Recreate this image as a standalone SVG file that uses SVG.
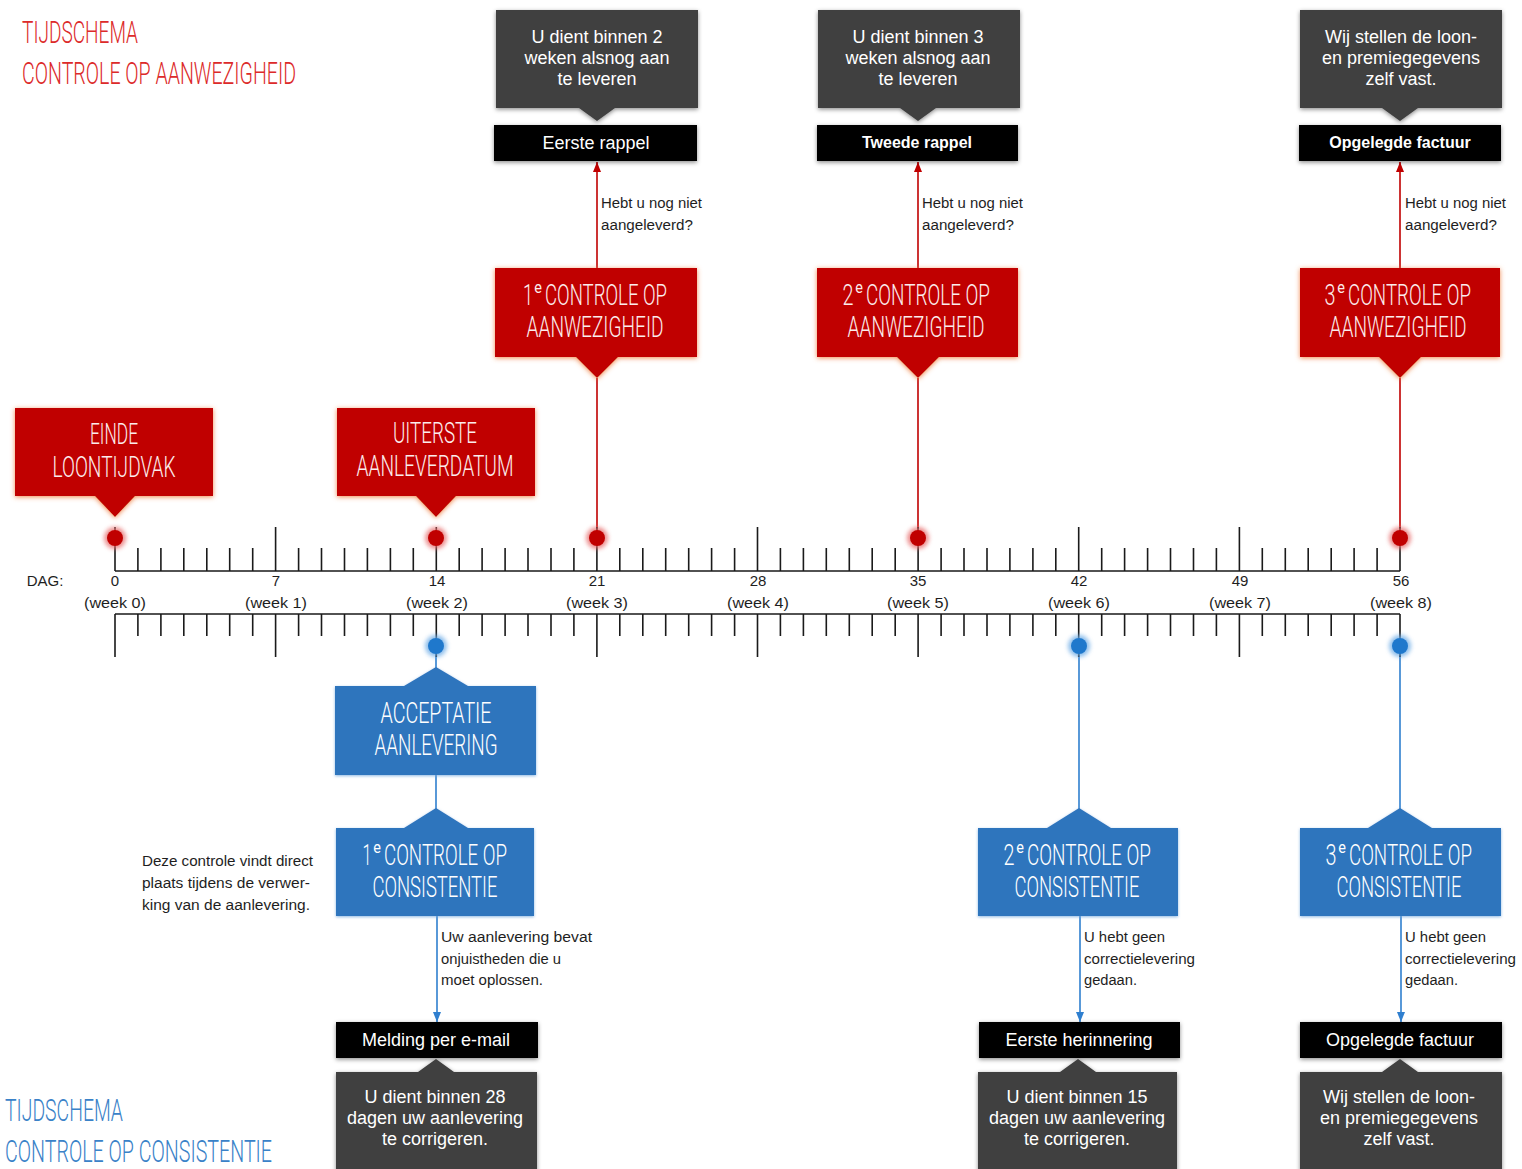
<svg xmlns="http://www.w3.org/2000/svg" width="1522" height="1169" viewBox="0 0 1522 1169">
<defs>
<style>
.ttl{font-family:Roboto,"Liberation Sans",sans-serif;font-weight:300;font-size:32px}
.bt{font-family:Roboto,"Liberation Sans",sans-serif;font-weight:300;font-size:30px;text-anchor:middle}
.bs{font-family:Roboto,"Liberation Sans",sans-serif;font-weight:300;font-size:30px;text-anchor:start}
.sup{font-family:Roboto,"Liberation Sans",sans-serif;font-weight:400;font-size:17px;text-anchor:middle}
.rt{fill:#fcecec}
.wt{fill:#ffffff}
.tx{font-family:"Liberation Sans",Arial,sans-serif}
.w18{font-size:18px;fill:#fff;text-anchor:middle}
.b16{font-size:16px;font-weight:bold;fill:#fff;text-anchor:middle}
.lbl{font-size:14px;fill:#1e1e1e}
.ax{font-size:15px;fill:#1e1e1e;text-anchor:middle}
.red{fill:#c00000}
.blue{fill:#2f74bd}
.dark{fill:#3f3f3f}
.blk{fill:#000}
.rl{stroke:#c00000;stroke-width:1.6;fill:none}
.bl{stroke:#2f7fcf;stroke-width:1.6;fill:none}
.tick{stroke:#1a1a1a;stroke-width:1.6;fill:none}
</style>
<filter id="shR" x="-15%" y="-15%" width="130%" height="135%"><feDropShadow dx="0" dy="1" stdDeviation="2.5" flood-color="#ee7a3a" flood-opacity="0.9"/></filter>
<filter id="shK" x="-15%" y="-15%" width="130%" height="135%"><feDropShadow dx="0" dy="1.5" stdDeviation="2" flood-color="#000" flood-opacity="0.45"/></filter>
<filter id="shB" x="-15%" y="-15%" width="130%" height="135%"><feDropShadow dx="0" dy="1" stdDeviation="1.6" flood-color="#6fa6dc" flood-opacity="0.8"/></filter>
<filter id="glow" x="-100%" y="-100%" width="300%" height="300%"><feGaussianBlur stdDeviation="2.2"/></filter>
<marker id="arrR" markerUnits="userSpaceOnUse" markerWidth="10" markerHeight="10" viewBox="0 0 10 10" refX="10" refY="5" orient="auto"><path d="M0,1 L10,5 L0,9 Z" fill="#c00000"/></marker>
<marker id="arrB" markerUnits="userSpaceOnUse" markerWidth="10" markerHeight="10" viewBox="0 0 10 10" refX="10" refY="5" orient="auto"><path d="M0,1 L10,5 L0,9 Z" fill="#2f7fcf"/></marker>
</defs>

<rect width="1522" height="1169" fill="#fff"/>

<g id="title-aanwezigheid" class="ttl" fill="#dc2a2a">
<text transform="translate(22,43) scale(0.65,1)" textLength="178.5" lengthAdjust="spacingAndGlyphs">TIJDSCHEMA</text>
<text transform="translate(22,84) scale(0.65,1)" textLength="421.5" lengthAdjust="spacingAndGlyphs">CONTROLE OP AANWEZIGHEID</text>
</g>
<g id="title-consistentie" class="ttl" fill="#3a82c8">
<text transform="translate(5,1121) scale(0.65,1)" textLength="181.5" lengthAdjust="spacingAndGlyphs">TIJDSCHEMA</text>
<text transform="translate(5,1162) scale(0.65,1)" textLength="410.8" lengthAdjust="spacingAndGlyphs">CONTROLE OP CONSISTENTIE</text>
</g>

<g id="connectors">
<line class="rl" x1="597" y1="268" x2="597" y2="162" marker-end="url(#arrR)"/>
<line class="rl" x1="918" y1="268" x2="918" y2="162" marker-end="url(#arrR)"/>
<line class="rl" x1="1400" y1="268" x2="1400" y2="162" marker-end="url(#arrR)"/>
<line class="rl" x1="597" y1="378" x2="597" y2="532"/>
<line class="rl" x1="918" y1="378" x2="918" y2="532"/>
<line class="rl" x1="1400" y1="378" x2="1400" y2="532"/>
<line class="bl" x1="436" y1="650" x2="436" y2="668"/>
<line class="bl" x1="436" y1="775" x2="436" y2="809"/>
<line class="bl" x1="1079" y1="650" x2="1079" y2="809"/>
<line class="bl" x1="1400" y1="650" x2="1400" y2="809"/>
<line class="bl" x1="437" y1="916" x2="437" y2="1022" marker-end="url(#arrB)"/>
<line class="bl" x1="1080" y1="916" x2="1080" y2="1022" marker-end="url(#arrB)"/>
<line class="bl" x1="1401" y1="916" x2="1401" y2="1022" marker-end="url(#arrB)"/>
</g>

<g id="connector-labels" class="tx lbl">
<text x="601" y="208" textLength="101" lengthAdjust="spacingAndGlyphs">Hebt u nog niet</text>
<text x="601" y="230" textLength="92" lengthAdjust="spacingAndGlyphs">aangeleverd?</text>
<text x="922" y="208" textLength="101" lengthAdjust="spacingAndGlyphs">Hebt u nog niet</text>
<text x="922" y="230" textLength="92" lengthAdjust="spacingAndGlyphs">aangeleverd?</text>
<text x="1405" y="208" textLength="101" lengthAdjust="spacingAndGlyphs">Hebt u nog niet</text>
<text x="1405" y="230" textLength="92" lengthAdjust="spacingAndGlyphs">aangeleverd?</text>
<text x="441" y="942" textLength="151" lengthAdjust="spacingAndGlyphs">Uw aanlevering bevat</text>
<text x="441" y="964" textLength="120" lengthAdjust="spacingAndGlyphs">onjuistheden die u</text>
<text x="441" y="985" textLength="102" lengthAdjust="spacingAndGlyphs">moet oplossen.</text>
<text x="1084" y="942" textLength="81" lengthAdjust="spacingAndGlyphs">U hebt geen</text>
<text x="1084" y="964" textLength="111" lengthAdjust="spacingAndGlyphs">correctielevering</text>
<text x="1084" y="985" textLength="53" lengthAdjust="spacingAndGlyphs">gedaan.</text>
<text x="1405" y="942" textLength="81" lengthAdjust="spacingAndGlyphs">U hebt geen</text>
<text x="1405" y="964" textLength="111" lengthAdjust="spacingAndGlyphs">correctielevering</text>
<text x="1405" y="985" textLength="53" lengthAdjust="spacingAndGlyphs">gedaan.</text>
<text x="142" y="866" textLength="171" lengthAdjust="spacingAndGlyphs">Deze controle vindt direct</text>
<text x="142" y="888" textLength="168" lengthAdjust="spacingAndGlyphs">plaats tijdens de verwer-</text>
<text x="142" y="910" textLength="168" lengthAdjust="spacingAndGlyphs">king van de aanlevering.</text>
</g>

<g id="timeline">
<path class="tick" d="M115,571H1400 M115,527V571 M275.6,527V571 M436.3,527V571 M596.9,527V571 M757.5,527V571 M918.1,527V571 M1078.7,527V571 M1239.4,527V571 M1400,527V571
M137.9,548v23 M160.9,548v23 M183.8,548v23 M206.8,548v23 M229.7,548v23 M252.7,548v23 M298.6,548v23 M321.5,548v23 M344.5,548v23 M367.4,548v23 M390.4,548v23 M413.3,548v23 M459.2,548v23 M482.1,548v23 M505.1,548v23 M528,548v23 M551,548v23 M573.9,548v23 M619.8,548v23 M642.8,548v23 M665.7,548v23 M688.7,548v23 M711.6,548v23 M734.6,548v23 M780.4,548v23 M803.4,548v23 M826.3,548v23 M849.3,548v23 M872.2,548v23 M895.2,548v23 M941.1,548v23 M964,548v23 M987,548v23 M1009.9,548v23 M1032.9,548v23 M1055.8,548v23 M1101.7,548v23 M1124.6,548v23 M1147.6,548v23 M1170.5,548v23 M1193.5,548v23 M1216.4,548v23 M1262.3,548v23 M1285.3,548v23 M1308.2,548v23 M1331.2,548v23 M1354.1,548v23 M1377.1,548v23"/>
<path class="tick" d="M115,614H1400 M115,614V657 M275.6,614V657 M436.3,614V657 M596.9,614V657 M757.5,614V657 M918.1,614V657 M1078.7,614V657 M1239.4,614V657 M1400,614V657
M137.9,614v22 M160.9,614v22 M183.8,614v22 M206.8,614v22 M229.7,614v22 M252.7,614v22 M298.6,614v22 M321.5,614v22 M344.5,614v22 M367.4,614v22 M390.4,614v22 M413.3,614v22 M459.2,614v22 M482.1,614v22 M505.1,614v22 M528,614v22 M551,614v22 M573.9,614v22 M619.8,614v22 M642.8,614v22 M665.7,614v22 M688.7,614v22 M711.6,614v22 M734.6,614v22 M780.4,614v22 M803.4,614v22 M826.3,614v22 M849.3,614v22 M872.2,614v22 M895.2,614v22 M941.1,614v22 M964,614v22 M987,614v22 M1009.9,614v22 M1032.9,614v22 M1055.8,614v22 M1101.7,614v22 M1124.6,614v22 M1147.6,614v22 M1170.5,614v22 M1193.5,614v22 M1216.4,614v22 M1262.3,614v22 M1285.3,614v22 M1308.2,614v22 M1331.2,614v22 M1354.1,614v22 M1377.1,614v22"/>
<g class="tx ax">
<text x="45" y="586">DAG:</text>
<text x="115" y="586">0</text><text x="115" y="608" textLength="62" lengthAdjust="spacingAndGlyphs">(week 0)</text>
<text x="276" y="586">7</text><text x="276" y="608" textLength="62" lengthAdjust="spacingAndGlyphs">(week 1)</text>
<text x="437" y="586">14</text><text x="437" y="608" textLength="62" lengthAdjust="spacingAndGlyphs">(week 2)</text>
<text x="597" y="586">21</text><text x="597" y="608" textLength="62" lengthAdjust="spacingAndGlyphs">(week 3)</text>
<text x="758" y="586">28</text><text x="758" y="608" textLength="62" lengthAdjust="spacingAndGlyphs">(week 4)</text>
<text x="918" y="586">35</text><text x="918" y="608" textLength="62" lengthAdjust="spacingAndGlyphs">(week 5)</text>
<text x="1079" y="586">42</text><text x="1079" y="608" textLength="62" lengthAdjust="spacingAndGlyphs">(week 6)</text>
<text x="1240" y="586">49</text><text x="1240" y="608" textLength="62" lengthAdjust="spacingAndGlyphs">(week 7)</text>
<text x="1401" y="586">56</text><text x="1401" y="608" textLength="62" lengthAdjust="spacingAndGlyphs">(week 8)</text>
</g>
<g id="dots-red">
<g fill="#e76b6b" opacity="0.75" filter="url(#glow)">
<circle cx="115" cy="538" r="11"/><circle cx="436" cy="538" r="11"/><circle cx="597" cy="538" r="11"/><circle cx="918" cy="538" r="11"/><circle cx="1400" cy="538" r="11"/>
</g>
<g fill="#c00000">
<circle cx="115" cy="538" r="8"/><circle cx="436" cy="538" r="8"/><circle cx="597" cy="538" r="8"/><circle cx="918" cy="538" r="8"/><circle cx="1400" cy="538" r="8"/>
</g>
</g>
<g id="dots-blue">
<g fill="#6aaae6" opacity="0.75" filter="url(#glow)">
<circle cx="436" cy="646" r="11"/><circle cx="1079" cy="646" r="11"/><circle cx="1400" cy="646" r="11"/>
</g>
<g fill="#1f78cc">
<circle cx="436" cy="646" r="8"/><circle cx="1079" cy="646" r="8"/><circle cx="1400" cy="646" r="8"/>
</g>
</g>
</g>

<!-- red nodes -->
<g id="n-einde">
<path class="red" filter="url(#shR)" d="M15,408H213V496H135L115,517L95,496H15Z"/>
<text class="bt rt" transform="translate(114,444) scale(0.7,1)" textLength="68.6" lengthAdjust="spacingAndGlyphs">EINDE</text>
<text class="bt rt" transform="translate(114,477) scale(0.7,1)" textLength="175.7" lengthAdjust="spacingAndGlyphs">LOONTIJDVAK</text>
</g>
<g id="n-uiterste">
<path class="red" filter="url(#shR)" d="M337,408H535V496H456L436,517L416,496H337Z"/>
<text class="bt rt" transform="translate(435,443) scale(0.7,1)" textLength="120" lengthAdjust="spacingAndGlyphs">UITERSTE</text>
<text class="bt rt" transform="translate(435,476) scale(0.7,1)" textLength="224.3" lengthAdjust="spacingAndGlyphs">AANLEVERDATUM</text>
</g>
<g id="n-ca1">
<path class="red" filter="url(#shR)" d="M495,268H697V357H618L597,378L576,357H495Z"/>
<text class="bt rt" transform="translate(528,305) scale(0.7,1)" textLength="14.3" lengthAdjust="spacingAndGlyphs">1</text>
<text class="sup rt" transform="translate(538,293) scale(0.85,1)">e</text>
<text class="bs rt" transform="translate(545,305) scale(0.7,1)" textLength="174.3" lengthAdjust="spacingAndGlyphs">CONTROLE OP</text>
<text class="bt rt" transform="translate(595,337) scale(0.7,1)" textLength="195.7" lengthAdjust="spacingAndGlyphs">AANWEZIGHEID</text>
</g>
<g id="n-ca2">
<path class="red" filter="url(#shR)" d="M817,268H1018V357H939L918,378L897,357H817Z"/>
<text class="bt rt" transform="translate(848,305) scale(0.7,1)" textLength="15.7" lengthAdjust="spacingAndGlyphs">2</text>
<text class="sup rt" transform="translate(859,293) scale(0.85,1)">e</text>
<text class="bs rt" transform="translate(866,305) scale(0.7,1)" textLength="177.1" lengthAdjust="spacingAndGlyphs">CONTROLE OP</text>
<text class="bt rt" transform="translate(916,337) scale(0.7,1)" textLength="195.7" lengthAdjust="spacingAndGlyphs">AANWEZIGHEID</text>
</g>
<g id="n-ca3">
<path class="red" filter="url(#shR)" d="M1300,268H1500V357H1421L1400,378L1379,357H1300Z"/>
<text class="bt rt" transform="translate(1330,305) scale(0.7,1)" textLength="15.7" lengthAdjust="spacingAndGlyphs">3</text>
<text class="sup rt" transform="translate(1341,293) scale(0.85,1)">e</text>
<text class="bs rt" transform="translate(1348,305) scale(0.7,1)" textLength="175.7" lengthAdjust="spacingAndGlyphs">CONTROLE OP</text>
<text class="bt rt" transform="translate(1398,337) scale(0.7,1)" textLength="195.7" lengthAdjust="spacingAndGlyphs">AANWEZIGHEID</text>
</g>

<!-- top black/dark nodes -->
<g id="n-rappel1-info">
<path class="dark" filter="url(#shK)" d="M496,10H698V108H615L597,121L579,108H496Z"/>
<g class="tx w18"><text x="597" y="43">U dient binnen 2</text><text x="597" y="64">weken alsnog aan</text><text x="597" y="85">te leveren</text></g>
</g>
<g id="n-rappel1">
<rect class="blk" filter="url(#shK)" x="494" y="125" width="203" height="36"/>
<text class="tx w18" x="596" y="149">Eerste rappel</text>
</g>
<g id="n-rappel2-info">
<path class="dark" filter="url(#shK)" d="M818,10H1020V108H936L918,121L900,108H818Z"/>
<g class="tx w18"><text x="918" y="43">U dient binnen 3</text><text x="918" y="64">weken alsnog aan</text><text x="918" y="85">te leveren</text></g>
</g>
<g id="n-rappel2">
<rect class="blk" filter="url(#shK)" x="817" y="125" width="201" height="36"/>
<text class="tx b16" x="917" y="148">Tweede rappel</text>
</g>
<g id="n-factuur-top-info">
<path class="dark" filter="url(#shK)" d="M1300,10H1502V108H1418L1400,121L1382,108H1300Z"/>
<g class="tx w18"><text x="1401" y="43">Wij stellen de loon-</text><text x="1401" y="64">en premiegegevens</text><text x="1401" y="85">zelf vast.</text></g>
</g>
<g id="n-factuur-top">
<rect class="blk" filter="url(#shK)" x="1299" y="125" width="202" height="36"/>
<text class="tx b16" x="1400" y="148">Opgelegde factuur</text>
</g>

<!-- blue nodes -->
<g id="n-acceptatie">
<path class="blue" filter="url(#shB)" d="M335,686H404L436,667L468,686H536V775H335Z"/>
<text class="bt wt" transform="translate(436,723) scale(0.7,1)" textLength="158.6" lengthAdjust="spacingAndGlyphs">ACCEPTATIE</text>
<text class="bt wt" transform="translate(436,755) scale(0.7,1)" textLength="175.7" lengthAdjust="spacingAndGlyphs">AANLEVERING</text>
</g>
<g id="n-cc1">
<path class="blue" filter="url(#shB)" d="M336,828H404L436,808L468,828H534V916H336Z"/>
<text class="bt wt" transform="translate(367,865) scale(0.7,1)" textLength="12.9" lengthAdjust="spacingAndGlyphs">1</text>
<text class="sup wt" transform="translate(377,853) scale(0.85,1)">e</text>
<text class="bs wt" transform="translate(384,865) scale(0.7,1)" textLength="175.7" lengthAdjust="spacingAndGlyphs">CONTROLE OP</text>
<text class="bt wt" transform="translate(435,897) scale(0.7,1)" textLength="178.6" lengthAdjust="spacingAndGlyphs">CONSISTENTIE</text>
</g>
<g id="n-cc2">
<path class="blue" filter="url(#shB)" d="M978,828H1047L1079,808L1111,828H1178V916H978Z"/>
<text class="bt wt" transform="translate(1009,865) scale(0.7,1)" textLength="15.7" lengthAdjust="spacingAndGlyphs">2</text>
<text class="sup wt" transform="translate(1020,853) scale(0.85,1)">e</text>
<text class="bs wt" transform="translate(1027,865) scale(0.7,1)" textLength="177.1" lengthAdjust="spacingAndGlyphs">CONTROLE OP</text>
<text class="bt wt" transform="translate(1077,897) scale(0.7,1)" textLength="178.6" lengthAdjust="spacingAndGlyphs">CONSISTENTIE</text>
</g>
<g id="n-cc3">
<path class="blue" filter="url(#shB)" d="M1300,828H1368L1400,808L1432,828H1501V916H1300Z"/>
<text class="bt wt" transform="translate(1331,865) scale(0.7,1)" textLength="15.7" lengthAdjust="spacingAndGlyphs">3</text>
<text class="sup wt" transform="translate(1342,853) scale(0.85,1)">e</text>
<text class="bs wt" transform="translate(1349,865) scale(0.7,1)" textLength="175.7" lengthAdjust="spacingAndGlyphs">CONTROLE OP</text>
<text class="bt wt" transform="translate(1399,897) scale(0.7,1)" textLength="178.6" lengthAdjust="spacingAndGlyphs">CONSISTENTIE</text>
</g>

<!-- bottom black/dark nodes -->
<g id="n-melding">
<rect class="blk" filter="url(#shK)" x="336" y="1022" width="202" height="36"/>
<text class="tx w18" x="436" y="1046">Melding per e-mail</text>
</g>
<g id="n-melding-info">
<path class="dark" filter="url(#shK)" d="M336,1072H418L436,1059L454,1072H537V1185H336Z"/>
<g class="tx w18"><text x="435" y="1103">U dient binnen 28</text><text x="435" y="1124">dagen uw aanlevering</text><text x="435" y="1145">te corrigeren.</text></g>
</g>
<g id="n-herinnering">
<rect class="blk" filter="url(#shK)" x="979" y="1022" width="201" height="36"/>
<text class="tx w18" x="1079" y="1046">Eerste herinnering</text>
</g>
<g id="n-herinnering-info">
<path class="dark" filter="url(#shK)" d="M978,1072H1060L1078,1059L1096,1072H1177V1185H978Z"/>
<g class="tx w18"><text x="1077" y="1103">U dient binnen 15</text><text x="1077" y="1124">dagen uw aanlevering</text><text x="1077" y="1145">te corrigeren.</text></g>
</g>
<g id="n-factuur-bot">
<rect class="blk" filter="url(#shK)" x="1300" y="1022" width="202" height="36"/>
<text class="tx w18" x="1400" y="1046">Opgelegde factuur</text>
</g>
<g id="n-factuur-bot-info">
<path class="dark" filter="url(#shK)" d="M1300,1072H1382L1400,1059L1418,1072H1502V1185H1300Z"/>
<g class="tx w18"><text x="1399" y="1103">Wij stellen de loon-</text><text x="1399" y="1124">en premiegegevens</text><text x="1399" y="1145">zelf vast.</text></g>
</g>
</svg>
